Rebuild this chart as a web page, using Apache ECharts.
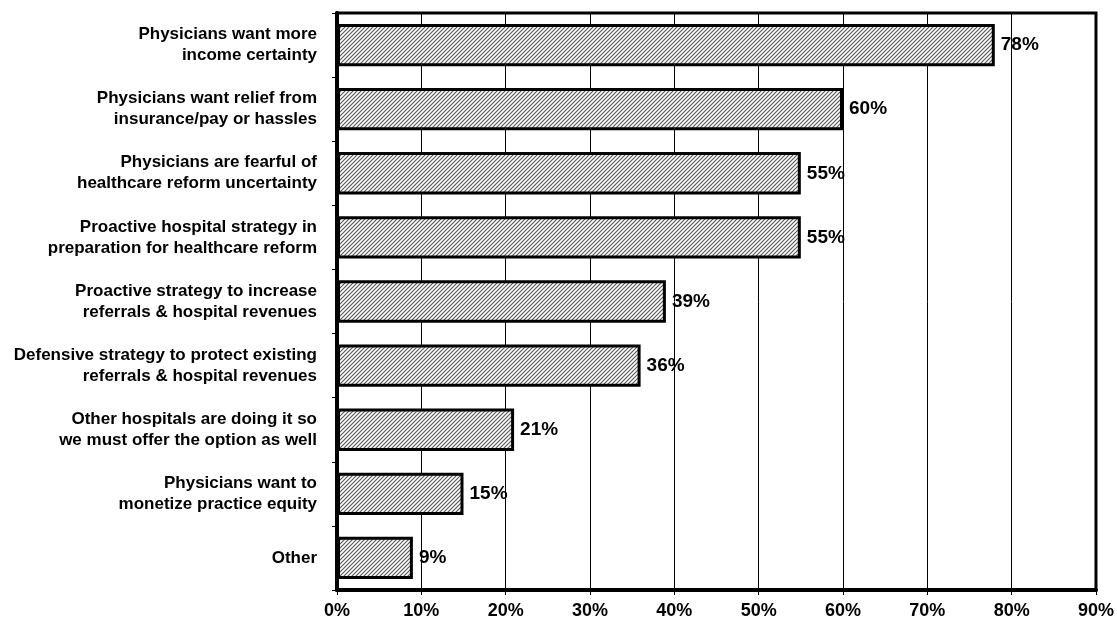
<!DOCTYPE html>
<html>
<head>
<meta charset="utf-8">
<script src="https://cdn.jsdelivr.net/npm/echarts@6/dist/echarts.min.js"></script>
<style>
html,body{margin:0;padding:0;background:#fff;}
#chart{width:1117px;height:627px;}
</style>
</head>
<body>
<div id="chart"></div>
<script>
var categories = [
  "Physicians want more\nincome certainty",
  "Physicians want relief from\ninsurance/pay or hassles",
  "Physicians are fearful of\nhealthcare reform uncertainty",
  "Proactive hospital strategy in\npreparation for healthcare reform",
  "Proactive strategy to increase\nreferrals & hospital revenues",
  "Defensive strategy to protect existing\nreferrals & hospital revenues",
  "Other hospitals are doing it so\nwe must offer the option as well",
  "Physicians want to\nmonetize practice equity",
  "Other"
];
var values = [78, 60, 55, 55, 39, 36, 21, 15, 9];
var xTicks = [0, 10, 20, 30, 40, 50, 60, 70, 80, 90];

// hatch pattern
var pc = document.createElement('canvas');
pc.width = 4; pc.height = 4;
var pctx = pc.getContext('2d');
pctx.fillStyle = '#ffffff';
pctx.fillRect(0, 0, 4, 4);
pctx.strokeStyle = '#555555';
pctx.lineWidth = 1.1;
pctx.beginPath();
pctx.moveTo(0, 4); pctx.lineTo(4, 0);
pctx.moveTo(-1, 1); pctx.lineTo(1, -1);
pctx.moveTo(3, 5); pctx.lineTo(5, 3);
pctx.stroke();

var chart = echarts.init(document.getElementById('chart'));
chart.setOption({
  animation: false,
  backgroundColor: '#ffffff',
  grid: {
    left: 337, right: 20, top: 13, bottom: 37,
    show: true, borderColor: '#000', borderWidth: 3
  },
  xAxis: {
    type: 'value', min: 0, max: 90, interval: 10,
    axisLine: {show: true, lineStyle: {color: '#000', width: 4}},
    axisTick: {show: true, length: 5, lineStyle: {color: '#000', width: 1}},
    splitLine: {show: true, lineStyle: {color: '#000', width: 1}},
    axisLabel: {
      formatter: function (v) { return xTicks.indexOf(v) >= 0 ? v + '%' : ''; },
      color: '#000', fontFamily: 'Liberation Sans', fontWeight: 'bold', fontSize: 18, margin: 12
    }
  },
  yAxis: {
    type: 'category', data: categories, inverse: true,
    axisLine: {show: true, lineStyle: {color: '#000', width: 4}},
    axisTick: {show: true, length: 5, lineStyle: {color: '#000', width: 1}},
    axisLabel: {
      color: '#000', fontFamily: 'Liberation Sans', fontWeight: 'bold', fontSize: 17,
      lineHeight: 21, margin: 20, align: 'right'
    }
  },
  series: [{
    type: 'bar',
    data: values,
    barCategoryGap: '34%',
    itemStyle: {
      color: {image: pc, repeat: 'repeat'},
      borderColor: '#000', borderWidth: 3
    },
    label: {
      show: true, position: 'right', distance: 6,
      formatter: '{c}%',
      color: '#000', fontFamily: 'Liberation Sans', fontWeight: 'bold', fontSize: 19
    }
  }]
});
</script>
</body>
</html>
